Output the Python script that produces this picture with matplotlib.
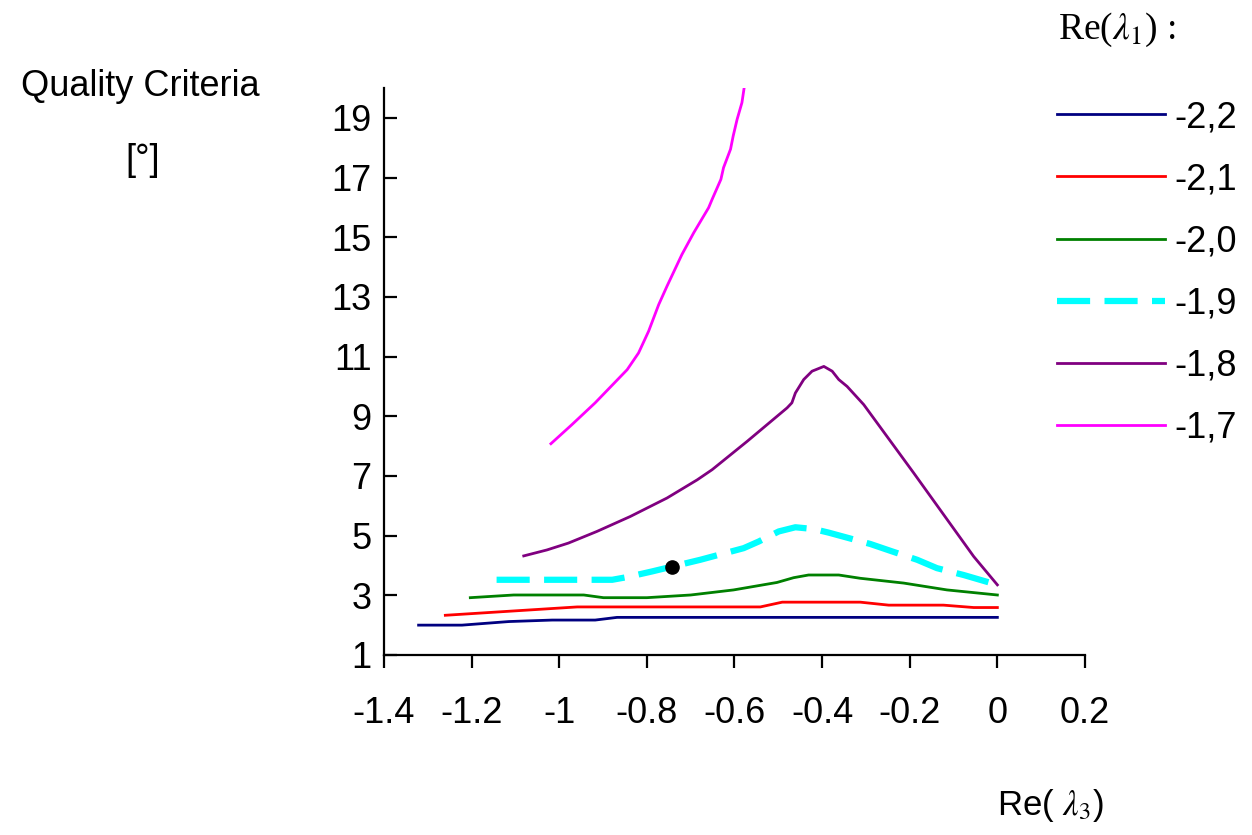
import numpy as np
import matplotlib
matplotlib.use('Agg')
import matplotlib.pyplot as plt

plt.rcParams['font.family'] = ['Liberation Sans', 'DejaVu Sans']
plt.rcParams['mathtext.fontset'] = 'stix'

# Re(lambda_1) series
labels = ['-2,2', '-2,1', '-2,0', '-1,9', '-1,8', '-1,7']

x_22 = [-1.321, -1.222, -1.115, -1.016, -0.918, -0.868, -0.5, 0.0]
y_22 = [2.0, 2.0, 2.12, 2.17, 2.17, 2.26, 2.26, 2.26]

x_21 = [-1.26, -0.959, -0.541, -0.491, -0.313, -0.248, -0.123, -0.054, 0.0]
y_21 = [2.33, 2.61, 2.61, 2.77, 2.77, 2.67, 2.67, 2.59, 2.59]

x_20 = [-1.203, -1.104, -0.944, -0.899, -0.8, -0.70, -0.602, -0.503, -0.465,
        -0.431, -0.362, -0.313, -0.214, -0.115, 0.0]
y_20 = [2.92, 3.01, 3.01, 2.92, 2.92, 3.01, 3.18, 3.43, 3.59,
        3.68, 3.68, 3.57, 3.41, 3.18, 3.01]

x_19 = [-1.143, -0.879, -0.845, -0.788, -0.743, -0.678, -0.579, -0.545, -0.499,
        -0.461, -0.419, -0.385, -0.29, -0.240, -0.183, -0.138, -0.077, 0.0]
y_19 = [3.52, 3.52, 3.61, 3.80, 3.96, 4.19, 4.58, 4.80, 5.14,
        5.28, 5.22, 5.10, 4.72, 4.47, 4.19, 3.91, 3.68, 3.35]

x_18 = [-1.081, -1.028, -0.979, -0.914, -0.838, -0.754, -0.685, -0.651, -0.571,
        -0.480, -0.469, -0.461, -0.442, -0.423, -0.396, -0.377, -0.362, -0.343,
        -0.305, -0.191, -0.054, 0.0]
y_18 = [4.32, 4.52, 4.75, 5.14, 5.64, 6.26, 6.87, 7.21, 8.16,
        9.28, 9.45, 9.78, 10.23, 10.51, 10.67, 10.51, 10.23, 10.0,
        9.39, 7.10, 4.30, 3.35]

x_17 = [-1.019, -0.971, -0.918, -0.845, -0.819, -0.796, -0.773, -0.754, -0.720,
        -0.693, -0.659, -0.651, -0.631, -0.625, -0.609, -0.603, -0.594, -0.583, -0.577]
y_17 = [8.08, 8.72, 9.45, 10.56, 11.12, 11.85, 12.74, 13.36, 14.42,
        15.15, 15.99, 16.27, 16.94, 17.33, 17.95, 18.39, 18.95, 19.51, 20.1]

# chosen point
dot_x = [-0.743]
dot_y = [3.96]

xticks = [-1.4, -1.2, -1.0, -0.8, -0.6, -0.4, -0.2, 0.0, 0.2]
xticklabels = ['-1.4', '-1.2', '-1', '-0.8', '-0.6', '-0.4', '-0.2', '0', '0.2']
yticks = [1, 3, 5, 7, 9, 11, 13, 15, 17, 19]

fig = plt.figure(figsize=(12.52, 8.35), dpi=100)
ax = fig.add_axes([0.3067, 0.2156, 0.5599, 0.679])

lw = 2.0
ax.plot(x_22, y_22, color='#000080', lw=lw, label=labels[0])
ax.plot(x_21, y_21, color='#ff0000', lw=lw, label=labels[1])
ax.plot(x_20, y_20, color='#008000', lw=lw, label=labels[2])
ax.plot(x_19, y_19, color='#00ffff', lw=4.5, dashes=(5.3, 2.3), label=labels[3])
ax.plot(x_18, y_18, color='#800080', lw=lw, label=labels[4])
ax.plot(x_17, y_17, color='#ff00ff', lw=lw, label=labels[5])
ax.plot(dot_x, dot_y, 'o', color='black', ms=9.5, zorder=5)

ax.set_xlim(-1.4, 0.2)
ax.set_ylim(1, 20)
ax.set_xticks(xticks)
ax.set_xticklabels(xticklabels)
ax.set_yticks(yticks)
ax.spines['top'].set_visible(False)
ax.spines['right'].set_visible(False)
for s in ['left', 'bottom']:
    ax.spines[s].set_linewidth(1.6)
ax.tick_params(axis='x', direction='out', length=9.5, width=1.6, pad=20, labelsize=26)
ax.tick_params(axis='y', direction='in', length=9.5, width=1.6, pad=9, labelsize=26)

ax.legend(loc='upper left', bbox_to_anchor=(1057/1252, 1 - 100/835),
          bbox_transform=fig.transFigure, frameon=False, fontsize=26,
          handlelength=3.0, handletextpad=0.25, labelspacing=0.75,
          borderpad=0, borderaxespad=0)

fig.text(140/1252, 1 - 87/835, 'Quality Criteria', ha='center', va='center', fontsize=26)
fig.text(143/1252, 1 - 160/835, '[°]', ha='center', va='center', fontsize=26)
fig.text(1058/1252, 1 - 30/835, r'Re($\lambda_1$) :', ha='left', va='center',
         fontsize=27, family='Liberation Serif')
fig.text(1050/1252, 1 - 805/835, r'Re( $\lambda_3$)', ha='center', va='center', fontsize=25)

fig.savefig('out.png', dpi=100)
